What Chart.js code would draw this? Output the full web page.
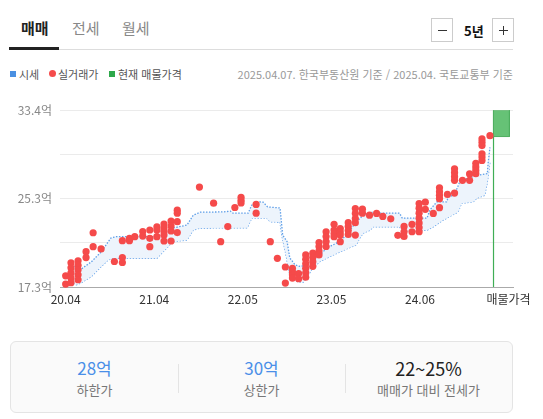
<!DOCTYPE html>
<html lang="ko">
<head>
<meta charset="utf-8">
<script src="https://cdn.jsdelivr.net/npm/chart.js@4.4.1/dist/chart.umd.min.js"></script>
<style>
body { margin: 0; background: #fff; font-family: "Noto Sans CJK KR", "Noto Sans", sans-serif; }
.wrap { position: relative; width: 543px; height: 419px; overflow: hidden; }
.abs { position: absolute; white-space: nowrap; }
.tab { top: 16px; font-size: 15px; line-height: 24px; color: #888; }
.tab.on { color: #222; font-weight: bold; }
.btn { top: 18px; width: 20px; height: 22px; border: 1px solid #ccc; background: #fff; }
.leg { top: 66px; font-size: 11px; line-height: 16px; color: #555; }
.summary { left: 10px; top: 341px; width: 501px; height: 70px; border: 1px solid #e4e4e4; border-radius: 6px; background: #fafafa; display: flex; }
.col { flex: 1; text-align: center; position: relative; }
.col + .col::before { content: ""; position: absolute; left: 0; top: 22px; height: 29px; border-left: 1px solid #e4e4e4; }
.val { margin-top: 15px; font-size: 17px; line-height: 22px; color: #4a8fe8; }
.lbl { margin-top: 2px; font-size: 13px; line-height: 18px; color: #777; }
</style>
</head>
<body>
<div class="wrap">
  <div class="abs tab on" style="left:21px">매매</div>
  <div class="abs tab" style="left:72px">전세</div>
  <div class="abs tab" style="left:122px">월세</div>
  <div class="abs" style="left:9px;top:49px;width:504px;height:1px;background:#ddd"></div>
  <div class="abs" style="left:9px;top:47px;width:50px;height:3px;background:#222"></div>

  <div class="abs btn" style="left:431px"><div class="abs" style="left:6px;top:11px;width:9px;height:1px;background:#333"></div></div>
  <div class="abs" style="left:464px;top:20px;font-size:13px;line-height:22px;color:#111;font-weight:bold">5년</div>
  <div class="abs btn" style="left:492px"><div class="abs" style="left:6px;top:11px;width:9px;height:1px;background:#333"></div><div class="abs" style="left:10px;top:7px;width:1px;height:9px;background:#333"></div></div>

  <div class="abs" style="left:10px;top:71px;width:6px;height:6px;background:#4a90e2"></div>
  <div class="abs leg" style="left:19px">시세</div>
  <div class="abs" style="left:49px;top:70px;width:7px;height:7px;border-radius:50%;background:#f54b4b"></div>
  <div class="abs leg" style="left:58px">실거래가</div>
  <div class="abs" style="left:109px;top:71px;width:6px;height:6px;background:#2ea84a"></div>
  <div class="abs leg" style="left:118px">현재 매물가격</div>
  <div class="abs leg" style="right:30px;color:#999">2025.04.07. 한국부동산원 기준 / 2025.04. 국토교통부 기준</div>

  <div class="abs" style="left:0;top:95px;width:543px;height:215px"><canvas id="priceChart"></canvas></div>

  <div class="abs summary">
    <div class="col"><div class="val">28억</div><div class="lbl">하한가</div></div>
    <div class="col"><div class="val">30억</div><div class="lbl">상한가</div></div>
    <div class="col"><div class="val" style="color:#222;font-size:18px">22~25%</div><div class="lbl">매매가 대비 전세가</div></div>
  </div>
</div>
<script>
// x = period index: 0 = 20.04, 1 = 21.04, 2 = 22.05, 3 = 23.05, 4 = 24.06, 5 = 매물가격
const xLabels = ['20.04', '21.04', '22.05', '23.05', '24.06', '매물가격'];
const yTickValues = [17.3, 21.325, 25.35, 29.375, 33.4];
const yTickLabels = ['17.3억', '', '25.3억', '', '33.4억'];

// 시세 band (억)
const bandUpperT = [0.03, 0.11, 0.18, 0.29, 0.40, 0.51, 0.57, 1.06, 1.14, 1.21, 1.37, 1.44, 1.52, 1.78, 1.86, 1.89, 2.06, 2.10, 2.19, 2.23, 2.28, 2.42, 2.45, 2.50, 2.53, 2.59, 2.65, 2.72, 2.79, 2.87, 2.95, 3.09, 3.17, 3.28, 3.36, 3.47, 3.51, 3.77, 3.80, 4.08, 4.11, 4.19, 4.30, 4.32, 4.37, 4.42, 4.45, 4.54, 4.64, 4.76, 4.77, 4.79];
const bandUpper = [19.50, 19.05, 18.96, 19.59, 20.49, 21.76, 21.88, 21.88, 22.30, 22.67, 22.94, 23.84, 24.11, 24.14, 24.21, 24.02, 24.02, 24.75, 25.05, 25.02, 24.59, 24.50, 22.03, 21.43, 19.95, 19.32, 19.16, 19.32, 19.62, 20.22, 20.86, 21.43, 22.03, 23.24, 23.84, 24.14, 24.02, 24.02, 23.57, 23.57, 24.30, 25.05, 25.05, 25.50, 25.65, 26.29, 26.92, 27.19, 27.46, 27.62, 28.64, 30.02];
const bandLowerT = [0.03, 0.12, 0.17, 0.29, 0.40, 0.48, 0.53, 1.03, 1.10, 1.21, 1.37, 1.44, 1.52, 2.05, 2.10, 2.27, 2.31, 2.42, 2.44, 2.48, 2.53, 2.61, 2.68, 2.72, 2.79, 2.87, 3.02, 3.17, 3.28, 3.32, 3.36, 3.44, 3.47, 3.77, 3.81, 4.08, 4.15, 4.26, 4.30, 4.43, 4.47, 4.60, 4.64, 4.73, 4.76, 4.79];
const bandLower = [17.96, 17.51, 17.66, 18.26, 19.16, 19.77, 19.92, 19.92, 20.52, 21.43, 21.58, 22.49, 22.67, 22.69, 23.57, 23.57, 23.24, 23.21, 22.03, 20.52, 18.41, 17.81, 17.72, 18.14, 19.05, 19.62, 20.22, 20.77, 21.13, 21.76, 22.21, 22.49, 22.78, 22.78, 22.33, 22.49, 22.78, 23.39, 23.57, 24.14, 24.93, 25.05, 25.38, 25.65, 26.86, 28.67];

// 실거래가 (억), grouped by deal time
const dealT = [0.00, 0.06, 0.14, 0.23, 0.31, 0.40, 0.55, 0.64, 0.72, 0.78, 0.87, 0.95, 1.03, 1.11, 1.19, 1.26, 1.51, 1.67, 1.75, 1.83, 1.91, 1.98, 2.15, 2.31, 2.39, 2.48, 2.56, 2.63, 2.71, 2.79, 2.86, 2.94, 3.03, 3.10, 3.19, 3.27, 3.35, 3.43, 3.51, 3.58, 3.67, 3.75, 3.82, 3.91, 3.99, 4.06, 4.15, 4.22, 4.31, 4.39, 4.48, 4.56, 4.63, 4.70, 4.79];
const dealPrices = [
  [18.32, 17.57],
  [19.50, 19.05, 18.59, 18.14, 17.69],
  [19.68, 19.27, 18.87, 18.41, 17.96],
  [20.52, 19.98],
  [22.24, 20.97],
  [20.77],
  [19.62],
  [21.52, 19.98, 19.53],
  [21.73, 21.52],
  [21.88],
  [22.35, 21.94],
  [22.49, 21.73, 20.97],
  [22.78, 22.49, 21.88],
  [23.03, 22.67, 22.35, 22.03, 21.49],
  [23.30, 22.85, 22.40, 21.49],
  [24.30, 24.02, 23.25, 22.26],
  [26.40],
  [24.93],
  [21.43],
  [22.80],
  [24.54],
  [25.47, 25.20, 24.96],
  [24.82, 24.02],
  [21.43],
  [19.91],
  [19.12, 17.66],
  [19.00, 18.68, 18.41, 18.11],
  [18.52, 18.05],
  [20.22, 19.82, 19.41, 19.00, 18.59, 18.19],
  [20.38, 20.00, 19.59, 19.18],
  [21.35, 20.99, 20.58, 20.22],
  [22.33, 21.90, 21.44, 20.99],
  [23.01, 22.49, 22.17, 21.88],
  [22.62, 22.30, 22.03, 21.43],
  [23.16, 22.80, 22.44, 22.08],
  [24.45, 24.00, 23.54, 23.16, 22.03],
  [24.39, 24.02],
  [23.84],
  [24.00],
  [23.73],
  [23.51],
  [22.01],
  [22.82, 22.33, 21.90],
  [23.01, 22.33],
  [24.90, 24.48, 24.02, 23.57, 23.12, 22.71, 22.33],
  [25.02, 24.37],
  [24.00],
  [26.33, 25.97, 25.65, 25.34, 24.52],
  [25.73],
  [28.07, 27.71, 27.35, 27.01, 25.85],
  [27.01],
  [27.60, 27.01],
  [28.57, 28.23, 27.92, 27.62],
  [30.78, 30.49, 30.18, 29.43, 29.14, 28.82],
  [31.08]
];

// 현재 매물가격 marker
const listingT = [4.83, 5.01];
const listingRange = [31.0, 33.4];

var dealPoints = [];
dealT.forEach(function (t, i) {
  dealPrices[i].forEach(function (p) { dealPoints.push({ x: t, y: p }); });
});
var upperPoints = bandUpperT.map(function (t, i) { return { x: t, y: bandUpper[i] }; });
var lowerPoints = bandLowerT.map(function (t, i) { return { x: t, y: bandLower[i] }; });
var listingBox = [
  { x: listingT[0], y: listingRange[0] }, { x: listingT[0], y: listingRange[1] },
  { x: listingT[1], y: listingRange[1] }, { x: listingT[1], y: listingRange[0] },
  { x: listingT[0], y: listingRange[0] }
];
var listingLine = [{ x: listingT[0], y: yTickValues[0] }, { x: listingT[0], y: yTickValues[4] }];

const ctx = document.getElementById('priceChart');
const priceChart = new Chart(ctx, {
  type: 'line',
  data: {
    datasets: [{
      data: dealPoints,
      showLine: false,
      pointRadius: 3.6,
      pointBackgroundColor: '#f54a4a',
      pointBorderWidth: 0,
      clip: false
    }, {
      data: upperPoints,
      borderColor: '#5f9fe8',
      borderWidth: 1.3,
      borderDash: [1.5, 1.5],
      pointRadius: 0,
      backgroundColor: '#edf4fc',
      fill: '+1'
    }, {
      data: lowerPoints,
      borderColor: '#5f9fe8',
      borderWidth: 1.3,
      borderDash: [1.5, 1.5],
      pointRadius: 0,
      fill: false
    }, {
      data: listingBox,
      borderColor: '#4fae60',
      borderWidth: 1,
      backgroundColor: '#66c276',
      pointRadius: 0,
      fill: 'shape'
    }, {
      data: listingLine,
      borderColor: '#3fae55',
      borderWidth: 1.2,
      pointRadius: 0,
      fill: false
    }]
  },
  options: {
    responsive: true,
    maintainAspectRatio: false,
    animation: false,
    layout: { padding: { top: 14, right: 30, left: 0, bottom: 0 } },
    plugins: {
      legend: { display: false },
      tooltip: { enabled: false }
    },
    scales: {
      x: {
        type: 'linear',
        min: -0.064,
        max: 5.05,
        afterBuildTicks: function (axis) {
          axis.ticks = xLabels.map(function (l, i) { return { value: i }; });
        },
        afterFit: function (axis) { axis.height = 23; },
        grid: { display: false, drawTicks: false },
        border: { display: true, color: '#aaa' },
        ticks: {
          padding: 5,
          autoSkip: false,
          maxRotation: 0,
          color: '#333',
          font: { family: '"Noto Sans CJK KR", "Noto Sans", sans-serif', size: 12 },
          callback: function (v) { return xLabels[Math.round(v)]; }
        }
      },
      y: {
        min: yTickValues[0],
        max: yTickValues[4],
        afterBuildTicks: function (axis) {
          axis.ticks = yTickValues.map(function (v) { return { value: v }; });
        },
        afterFit: function (axis) { axis.width = 60; },
        grid: { color: '#ebebeb', drawTicks: false },
        border: { display: false },
        ticks: {
          padding: 8,
          color: '#888',
          font: { family: '"Noto Sans CJK KR", "Noto Sans", sans-serif', size: 12 },
          callback: function (v, i) { return yTickLabels[i]; }
        }
      }
    }
  }
});
</script>
</body>
</html>
